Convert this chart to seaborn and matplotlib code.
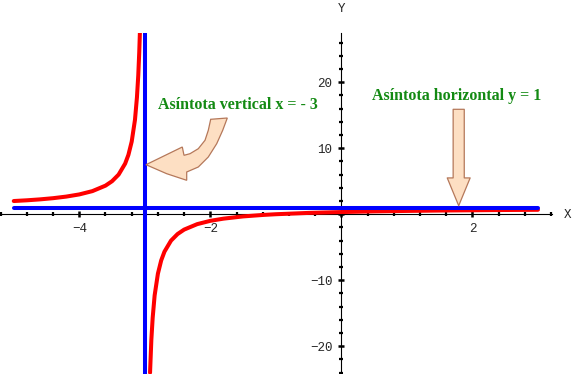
import seaborn as sns
import matplotlib.pyplot as plt
from matplotlib.patches import FancyArrowPatch, Polygon
from matplotlib.ticker import MultipleLocator, FuncFormatter

# rama izquierda de la curva (x < -3)
x_izq = [-5.0, -4.8, -4.6, -4.4, -4.2, -4.0, -3.8, -3.6, -3.5, -3.4, -3.3,
         -3.25, -3.2, -3.15, -3.12, -3.1, -3.085, -3.075]
y_izq = [2.0, 2.11, 2.25, 2.43, 2.67, 3.0, 3.5, 4.33, 5.0, 6.0, 7.67,
         9.0, 11.0, 14.3, 17.7, 21.0, 24.5, 27.5]

# rama derecha (x > -3)
x_der = [-2.92, -2.9, -2.88, -2.85, -2.8, -2.75, -2.7, -2.6, -2.5, -2.4, -2.2,
         -2.0, -1.8, -1.5, -1.2, -1.0, -0.5, 0.0, 0.5, 1.0, 1.5, 2.0, 2.5, 3.0]
y_der = [-24.0, -19.0, -15.7, -12.3, -9.0, -7.0, -5.67, -4.0, -3.0, -2.33, -1.5,
         -1.0, -0.67, -0.33, -0.11, 0.0, 0.2, 0.33, 0.43, 0.5, 0.56, 0.6, 0.64, 0.67]

# asintotas
asint_h_x = [-5.0, 3.0]
asint_h_y = [1.0, 1.0]
asint_v = -3.0

texto_v = 'Asíntota vertical x = - 3'
texto_h = 'Asíntota horizontal y = 1'

sns.set_style('white')
W, H = 577, 374
fig = plt.figure(figsize=(W / 100, H / 100), dpi=100)
ax = fig.add_axes([0, 0, 551.7 / W, (H - 33) / H])


def px(x, y):
    # pixeles (desde arriba a la izquierda) -> fraccion de figura
    return (x / W, 1 - y / H)


sns.lineplot(x=x_izq, y=y_izq, color='red', linewidth=2.9, sort=False, estimator=None, ax=ax)
sns.lineplot(x=x_der, y=y_der, color='red', linewidth=2.9, sort=False, estimator=None, ax=ax)
sns.lineplot(x=asint_h_x, y=asint_h_y, color='blue', linewidth=2.9, sort=False, estimator=None, ax=ax)
ax.axvline(asint_v, color='blue', linewidth=2.9)

ax.set_xlim(-5.21, 3.21)
ax.set_ylim(-24.2, 27.45)

for s in ['top', 'right']:
    ax.spines[s].set_visible(False)
ax.spines['left'].set_position(('data', 0))
ax.spines['bottom'].set_position(('data', 0))
for s in ['left', 'bottom']:
    ax.spines[s].set_linewidth(0.8)
    ax.spines[s].set_color('black')
    ax.spines[s].set_zorder(1)

ax.xaxis.set_major_locator(MultipleLocator(2))
ax.xaxis.set_minor_locator(MultipleLocator(0.4))
ax.yaxis.set_major_locator(MultipleLocator(10))
ax.yaxis.set_minor_locator(MultipleLocator(2))
sin_cero = FuncFormatter(lambda v, p: '' if abs(v) < 1e-9 else f'{v:.0f}'.replace('-', '\u2212'))
ax.xaxis.set_major_formatter(sin_cero)
ax.yaxis.set_major_formatter(sin_cero)
ax.tick_params(which='major', bottom=True, left=True, direction='inout', length=5, width=1.8,
               color='black', labelsize=9, pad=4)
ax.tick_params(which='minor', bottom=True, left=True, direction='inout', length=3, width=1.6,
               color='black')
for lab in ax.get_xticklabels() + ax.get_yticklabels():
    lab.set_family('Liberation Mono')

fig.text(*px(568, 215), 'X', ha='center', va='center', fontsize=9, family='Liberation Mono')
fig.text(*px(342, 9), 'Y', ha='center', va='center', fontsize=9, family='Liberation Mono')

verde = '#138a13'
fig.text(*px(158, 105), texto_v, ha='left', va='center', fontsize=11.5,
         fontweight='bold', family='Liberation Serif', color=verde)
fig.text(*px(372, 96), texto_h, ha='left', va='center', fontsize=11.5,
         fontweight='bold', family='Liberation Serif', color=verde)

relleno = '#fddfc3'
borde = '#b5785a'

# flecha curva hacia la asintota vertical (contorno en pixeles)
contorno = [(227.3, 118.0), (210.7, 119.3), (208.3, 130.3), (205, 140.3), (198.3, 148.7),
            (190, 153.7), (184, 155.3), (182.3, 147), (146, 164.7), (166.7, 173.7),
            (186.7, 180.3), (186.7, 172), (198.3, 167), (208.3, 157), (216.7, 143.7),
            (222.7, 130.3)]
flecha_curva = Polygon([px(a, b) for a, b in contorno], closed=True, transform=fig.transFigure,
                       facecolor=relleno, edgecolor=borde, linewidth=0.9)
fig.patches.append(flecha_curva)

flecha_recta = FancyArrowPatch(px(458.7, 109.3), px(458.7, 205.7), transform=fig.transFigure,
                               arrowstyle='simple,head_width=1.65,head_length=2.0,tail_width=0.8',
                               mutation_scale=10, shrinkA=0, shrinkB=0,
                               facecolor=relleno, edgecolor=borde, linewidth=0.9)
fig.patches.append(flecha_recta)

fig.savefig('out.png', dpi=100)
